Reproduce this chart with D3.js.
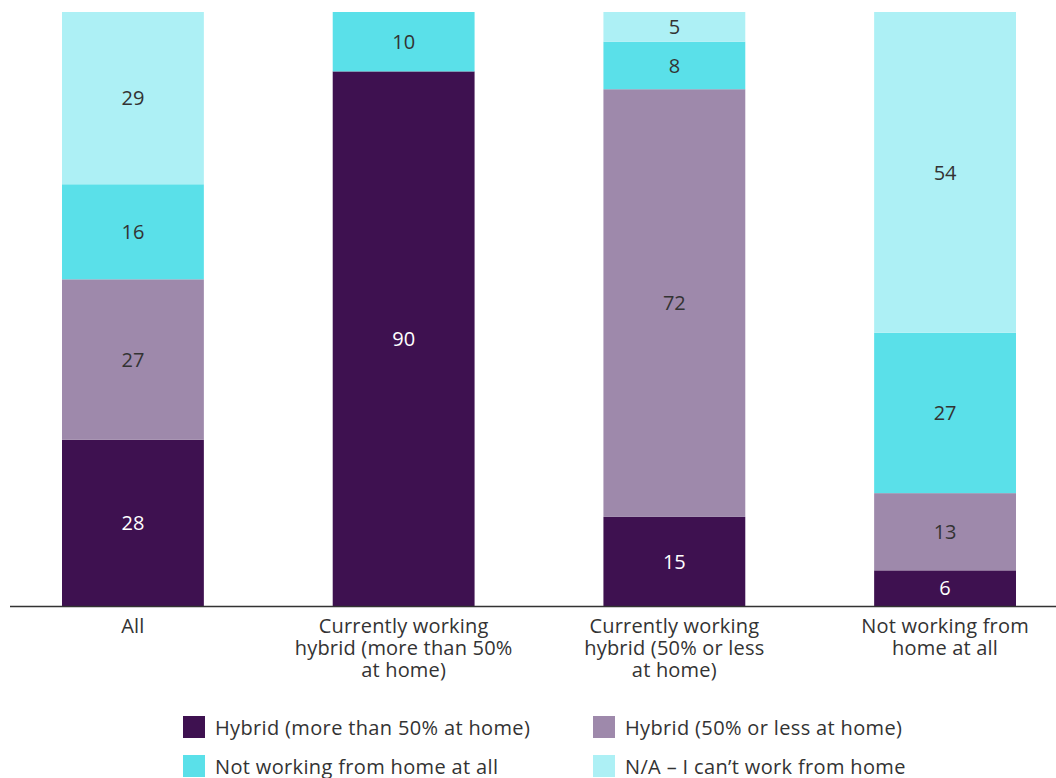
<!DOCTYPE html>
<html>
<head>
<meta charset="utf-8">
<script src="https://cdn.jsdelivr.net/npm/d3@7"></script>
<style>
  html, body { margin: 0; padding: 0; background: #fff; }
  svg { display: block; }
  text { font-family: "Open Sans", Lato, sans-serif; }
</style>
</head>
<body>
<svg id="chart" width="1056" height="778"></svg>
<script>
// ---- Data ----
const categories = ["All", "Currently working hybrid (more than 50% at home)", "Currently working hybrid (50% or less at home)", "Not working from home at all"];
const categoryLines = [
  ["All"],
  ["Currently working", "hybrid (more than 50%", "at home)"],
  ["Currently working", "hybrid (50% or less", "at home)"],
  ["Not working from", "home at all"]
];
const seriesNames = ["Hybrid (more than 50% at home)", "Hybrid (50% or less at home)", "Not working from home at all", "N/A \u2013 I can\u2019t work from home"];
const hybridMore = [28, 90, 15, 6];
const hybridLess = [27, 0, 72, 13];
const notWorking = [16, 10, 8, 27];
const cantWork = [29, 0, 5, 54];
const seriesColors = ["#3e1150", "#9e89ab", "#5ae0e9", "#adf0f5"];
const labelColors = ["#ffffff", "#333333", "#333333", "#333333"];

const seriesValues = [hybridMore, hybridLess, notWorking, cantWork];
const table = categories.map((c, i) => {
  const row = { category: c };
  seriesNames.forEach((s, j) => row[s] = seriesValues[j][i]);
  return row;
});

const svg = d3.select("#chart");
const x = d3.scaleBand().domain(categories).range([62, 1016]).paddingInner(0.476).paddingOuter(0);
const y = d3.scaleLinear().domain([0, 100]).range([606, 12]);

const stack = d3.stack().keys(seriesNames);
const stacked = stack(table);

const g = svg.append("g");
stacked.forEach((layer, li) => {
  const lg = g.append("g");
  lg.selectAll("rect").data(layer).join("rect")
    .attr("x", d => x(d.data.category))
    .attr("width", x.bandwidth())
    .attr("y", d => y(d[1]))
    .attr("height", d => y(d[0]) - y(d[1]))
    .attr("fill", seriesColors[li]);
  lg.selectAll("text").data(layer.filter(d => d[1] - d[0] > 0)).join("text")
    .attr("x", d => x(d.data.category) + x.bandwidth() / 2)
    .attr("y", d => (y(d[0]) + y(d[1])) / 2)
    .attr("dy", "0.36em")
    .attr("text-anchor", "middle")
    .attr("font-size", 20)
    .attr("fill", labelColors[li])
    .text(d => d[1] - d[0]);
});

// baseline axis
svg.append("line")
  .attr("x1", 10).attr("x2", 1056)
  .attr("y1", y(0) + 0.5).attr("y2", y(0) + 0.5)
  .attr("stroke", "#333").attr("stroke-width", 1.5);

// category labels
categories.forEach((c, i) => {
  const t = svg.append("text")
    .attr("text-anchor", "middle")
    .attr("font-size", 20)
    .attr("letter-spacing", 0.2)
    .attr("fill", "#333");
  categoryLines[i].forEach((ln, k) => {
    t.append("tspan")
      .attr("x", x(c) + x.bandwidth() / 2)
      .attr("y", 633 + k * 22)
      .text(ln);
  });
});

// legend
const legendPos = [[183, 716], [593, 716], [183, 755], [593, 755]];
seriesNames.forEach((s, i) => {
  const [lx, ly] = legendPos[i];
  svg.append("rect").attr("x", lx).attr("y", ly).attr("width", 22).attr("height", 22).attr("fill", seriesColors[i]);
  svg.append("text").attr("x", lx + 32).attr("y", ly + 19)
    .attr("font-size", 20).attr("letter-spacing", 0.35)
    .attr("fill", "#333").text(s);
});
</script>
</body>
</html>
